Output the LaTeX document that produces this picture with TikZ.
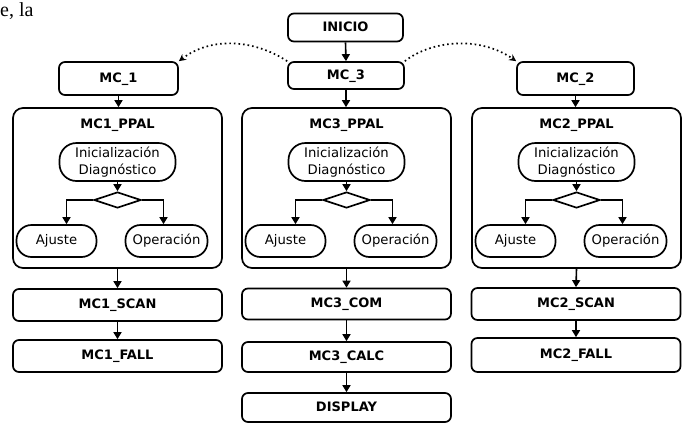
\documentclass[tikz,border=0pt]{standalone}
\usepackage{fontspec}
\setmainfont{DejaVu Sans}
\newfontfamily\pageserif{Liberation Serif}
\usetikzlibrary{arrows.meta,shapes.geometric}

\tikzset{
  every node/.style={inner sep=0pt},
  edge/.style={line width=1.7pt},
  block/.style={draw, edge, rounded corners=6pt,
    font=\bfseries\fontsize{13}{13}\selectfont,
    text height=0.73em, text depth=0pt},
  frame/.style={draw, edge, rounded corners=10pt,
    minimum width=209pt, minimum height=160pt},
  ttl/.style={font=\bfseries\fontsize{13}{13}\selectfont,
    text height=0.73em, text depth=0pt},
  pill/.style={draw, edge, font=\fontsize{13.2}{16.5}\selectfont},
  choice/.style={draw, edge, diamond, minimum width=47pt,
    minimum height=16pt, aspect=2.9},
  arr/.style={line width=1.6pt, -{Triangle[length=7pt,width=8pt]}},
  link/.style={line width=1.7pt, dash pattern=on 1.6pt off 3pt,
    -{Stealth[length=7pt,width=7pt,open]}},
}

\begin{document}
\begin{tikzpicture}[x=1pt,y=-1pt]
  \useasboundingbox (0,0) rectangle (683,424);

  % fragment of running text above the chart
  \node[anchor=base west, font=\pageserif\fontsize{20}{20}\selectfont]
    (frag) at (0,16) {e,\hspace{5pt}la};

  % start and the three module entries
  \node[block, minimum width=115pt, minimum height=28pt] (inicio) at (345.5,27.5) {INICIO};
  \node[block, minimum width=116pt, minimum height=27pt] (mc3) at (346,75.5) {MC\_3};
  \node[block, minimum width=119pt, minimum height=33pt] (mc1) at (118.5,78.5) {MC\_1};
  \node[block, minimum width=117pt, minimum height=33pt] (mc2) at (575.5,78.5) {MC\_2};

  \draw[arr] (inicio.south) -- (mc3.north);

  % dotted hand-offs from MC_3 to the side modules
  \draw[link] (mc3.north west) .. controls (255,40) and (212,36) .. (mc1.north east);
  \draw[link] (mc3.north east) .. controls (432,40) and (480,36) .. (mc2.north west);

  % the three main routines with their internal flow
  \foreach \c/\xo in {1/13, 3/242, 2/472}{
    \pgfmathsetmacro{\cx}{\xo+104.5}
    \node[frame] (ppal\c) at (\cx,188) {};
    \node[ttl] (ttl\c) at (\cx,125) {MC\c\_PPAL};
    \node[pill, rounded corners=17pt, minimum width=116pt, minimum height=38pt,
      align=center] (init\c) at (\cx,162) {Inicialización\\Diagnóstico};
    \node[choice] (dec\c) at (\cx,200) {};
    \node[pill, rounded corners=15pt, minimum width=80pt, minimum height=32pt]
      (adj\c) at (\cx-61,241) {Ajuste};
    \node[pill, rounded corners=15pt, minimum width=82pt, minimum height=32pt]
      (op\c) at (\cx+49,241) {Operación};
    \draw[arr] (init\c.south) -- (dec\c.north);
    \draw[arr] (dec\c.west) -| ([xshift=10pt]adj\c.north);
    \draw[arr] (dec\c.east) -| ([xshift=-3pt]op\c.north);
  }

  \draw[arr] (mc1.south) -- (mc1.south |- ppal1.north);
  \draw[arr] (mc3.south) -- (mc3.south |- ppal3.north);
  \draw[arr] (mc2.south) -- (mc2.south |- ppal2.north);

  % left column
  \node[block, minimum width=209pt, minimum height=32pt] (scan1) at (117.5,305) {MC1\_SCAN};
  \node[block, minimum width=209pt, minimum height=32pt] (fall1) at (117.5,356) {MC1\_FALL};
  \draw[arr] (ppal1.south) -- (scan1.north);
  \draw[arr] (scan1.south) -- (fall1.north);

  % centre column
  \node[block, minimum width=209pt, minimum height=31pt] (com3) at (346.5,304) {MC3\_COM};
  \node[block, minimum width=209pt, minimum height=30pt] (calc3) at (346.5,357) {MC3\_CALC};
  \node[block, minimum width=209pt, minimum height=29pt] (disp) at (346.5,407.5) {DISPLAY};
  \draw[arr] (ppal3.south) -- (com3.north);
  \draw[arr] (com3.south) -- (calc3.north);
  \draw[arr] (calc3.south) -- (disp.north);

  % right column
  \node[block, minimum width=209pt, minimum height=32pt] (scan2) at (576,304) {MC2\_SCAN};
  \node[block, minimum width=209pt, minimum height=34pt] (fall2) at (576,355) {MC2\_FALL};
  \draw[arr] (ppal2.south) -- (scan2.north);
  \draw[arr] (scan2.south) -- (fall2.north);
\end{tikzpicture}
\end{document}
